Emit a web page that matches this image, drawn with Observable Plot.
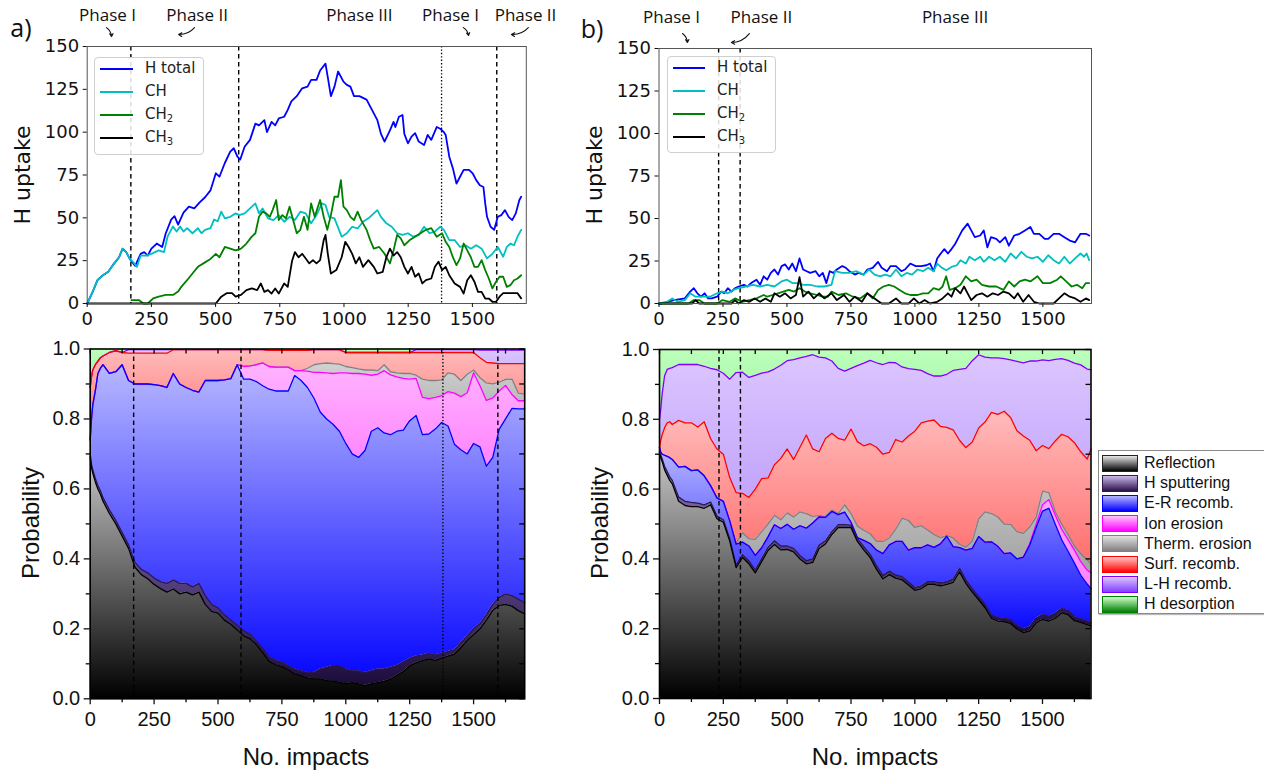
<!DOCTYPE html>
<html><head><meta charset="utf-8">
<script src="https://cdn.jsdelivr.net/npm/d3@7"></script>
<script src="https://cdn.jsdelivr.net/npm/@observablehq/plot@0.6"></script>
<style>
html,body{margin:0;padding:0;background:#fff;overflow:hidden}
#root{position:relative;width:1264px;height:773px;overflow:hidden;background:#fff}
.box{position:absolute}
.lg{position:absolute;background:rgba(255,255,255,0.85);border:1px solid #cfcfcf;border-radius:4px}
.lgi{position:absolute;white-space:nowrap;line-height:1}
.lgi sub{font-size:10px;vertical-align:-3px;line-height:0}
</style></head><body><div id="root"></div>
<script>
// ---------- tick labels / categories ----------
const topXTicks = [0, 250, 500, 750, 1000, 1250, 1500];
const topYTicks = [0, 25, 50, 75, 100, 125, 150];
const botXTicks = [0, 250, 500, 750, 1000, 1250, 1500];
const botXMinor = [125, 375, 625, 875, 1125, 1375, 1625];
const botYTicks = [0, 0.2, 0.4, 0.6, 0.8, 1.0];
const botYMinor = [0.1, 0.3, 0.5, 0.7, 0.9];
const topSeriesNames = ["H total", "CH", "CH<sub>2</sub>", "CH<sub>3</sub>"];
const processNames = ["Reflection", "H sputtering", "E-R recomb.", "Ion erosion", "Therm. erosion", "Surf. recomb.", "L-H recomb.", "H desorption"];

// phase boundaries (No. impacts)
const aDashed = [170, 590, 1595];
const aDotted = [1380];
const bDashed = [233, 317];
const bDotted = [];

// phase annotations (data units of the upper panels)
const aPhaseLabels = [
  {t: "Phase I", x: 79, y: 168}, {t: "Phase II", x: 428, y: 168}, {t: "Phase III", x: 1060, y: 168},
  {t: "Phase I", x: 1415, y: 168}, {t: "Phase II", x: 1707, y: 168}
];
const aPhaseArrows = [
  {x1: 75, y1: 161, x2: 95, y2: 155.8}, {x1: 418, y1: 161, x2: 356, y2: 157},
  {x1: 1465, y1: 161, x2: 1485, y2: 156.4}, {x1: 1718, y1: 161, x2: 1652, y2: 157}
];
const bPhaseLabels = [{t: "Phase I", x: 49, y: 168}, {t: "Phase II", x: 400, y: 168}, {t: "Phase III", x: 1157, y: 168}];
const bPhaseArrows = [{x1: 92, y1: 158.8, x2: 111, y2: 153.5}, {x1: 353, y1: 158.8, x2: 283, y2: 153.5}];

// ---------- panel a) H uptake [impacts, value] ----------
const aTotal = [[0,0],[19,6],[40,13.6],[61,16.5],[82,18.5],[103,23],[124,27],[138,32],[152,30],[166,26],[176,24],[187,22],[208,29],[222,30],[236,28],[250,32],[271,35],[292,33],[306,41],[327,49],[340,51],[354,46],[375,53],[396,56.5],[417,55.5],[438,59],[459,62],[480,66],[501,76],[515,74],[536,82],[557,88.6],[571,90.6],[585,85.7],[596,84],[613,91.5],[634,95.5],[655,105],[669,104],[690,107],[700,100],[718,106],[732,104],[746,108],[767,109],[781,113],[795,118],[816,121],[837,125.6],[858,126.6],[872,130.5],[893,130.5],[907,136],[928,140],[937,132],[949,121],[963,126.6],[977,135.4],[998,129.5],[1011,127.6],[1025,126.6],[1039,121],[1060,121],[1088,119],[1109,113],[1130,107],[1144,99],[1158,94.5],[1179,101],[1193,106],[1200,103],[1214,109],[1228,110],[1235,99],[1249,93.5],[1263,97.4],[1277,99.4],[1291,94.5],[1312,92.5],[1326,98.4],[1340,95.5],[1361,103],[1375,102],[1389,100],[1396,98.4],[1410,85.7],[1424,79],[1438,70],[1452,74],[1466,78],[1487,78],[1501,76],[1515,72],[1529,69],[1543,68],[1550,58.4],[1557,50.6],[1571,44.8],[1585,43],[1599,50.6],[1613,51.6],[1627,54.5],[1641,50.6],[1655,48.7],[1669,52.6],[1683,60.4],[1690,62.3]];
const aCH = [[0,0],[19,6],[40,13.6],[61,16.5],[82,18.5],[103,23],[124,27],[138,32],[152,30],[166,26],[180,24],[194,21.4],[208,28],[229,28],[250,29],[278,31],[299,30],[313,39],[334,45],[348,42],[362,45],[375,42],[389,44],[410,41],[431,44],[445,41],[459,43],[480,44],[494,49],[508,48],[522,53.6],[536,49.7],[557,50.6],[578,52.6],[592,51.6],[613,52.6],[634,55.5],[655,58.4],[669,52.6],[683,55.5],[704,49.7],[725,48.7],[746,51.6],[767,47.7],[788,50.6],[809,48.7],[830,53.6],[851,52.6],[872,46.8],[893,51.6],[914,58.4],[928,57.5],[942,50.6],[963,49.7],[991,39],[1011,41],[1032,44.8],[1053,43.8],[1074,47.7],[1095,49.7],[1116,52.6],[1130,54.5],[1144,50.6],[1165,46.8],[1186,44.8],[1207,41],[1228,40],[1249,41],[1270,39],[1291,40],[1312,44.8],[1333,41],[1354,42],[1375,44.8],[1389,43],[1410,37],[1431,37],[1452,33],[1473,34],[1494,32],[1515,34],[1536,32],[1557,26.3],[1578,29],[1599,33],[1620,27.3],[1634,33],[1648,35],[1662,34],[1676,39],[1690,43]];
const aCH2 = [[172,2],[180,2],[201,2],[219,0],[236,0],[257,3],[278,4],[306,5],[334,5],[354,7],[368,10],[389,13.6],[410,17.5],[431,21.4],[459,24],[480,26],[501,29],[515,27],[536,33],[557,32],[578,31],[599,32],[620,35],[641,39],[655,41],[669,50.6],[683,53.6],[697,52.6],[711,50.6],[722,54.5],[736,60.4],[746,48.7],[760,51.6],[774,49.7],[788,56.5],[802,48.7],[816,41],[830,43],[844,50.6],[858,43],[872,58.4],[886,50.6],[907,60.4],[921,50.6],[935,43],[949,51.6],[963,62.3],[977,62.3],[988,72],[998,56.5],[1011,54.5],[1025,50.6],[1039,48.7],[1053,53.6],[1067,48.7],[1088,43],[1102,37],[1116,32],[1137,33],[1158,29],[1179,23.4],[1193,31],[1207,40],[1221,38],[1235,34],[1256,37],[1277,39],[1298,41],[1319,43],[1340,44],[1361,39],[1382,41],[1396,36],[1410,33],[1424,27],[1438,22.4],[1452,26.3],[1466,35],[1480,31],[1494,27],[1508,21.4],[1522,21.4],[1536,25.3],[1550,19.5],[1564,14.6],[1578,8.8],[1592,12.7],[1606,15.6],[1620,15.6],[1634,9.7],[1648,10.7],[1662,13.6],[1676,14.6],[1690,16.5]];
const aCH3 = [[0,0],[501,0],[522,4],[543,6],[564,6],[578,4],[599,5],[620,7.8],[641,8.8],[662,7.8],[676,11.7],[690,6.8],[704,7.8],[718,5.8],[732,8.8],[746,5.8],[767,11.7],[781,9.7],[798,25],[809,30],[823,27],[837,29],[851,26.3],[865,23.4],[879,25.3],[893,23.4],[907,25.3],[921,37],[928,40],[937,29],[949,17.5],[970,19.5],[991,27],[1005,36],[1018,33],[1032,29],[1046,23.4],[1060,27],[1074,21.4],[1095,25.3],[1116,21.4],[1130,17.5],[1151,18.5],[1165,27],[1179,32],[1193,28],[1207,30],[1221,27],[1235,21.4],[1249,17.5],[1263,21.4],[1277,15.6],[1291,17.5],[1305,11.7],[1319,13.6],[1340,14.6],[1354,21.4],[1368,24.4],[1382,19.5],[1396,21.4],[1410,16.5],[1431,11.7],[1452,9.7],[1466,5.8],[1480,13.6],[1494,16.5],[1508,12.7],[1522,6.8],[1536,6.8],[1550,2.9],[1564,2.9],[1578,1],[1592,1],[1606,4],[1620,6],[1648,6],[1676,6],[1690,3]];

// ---------- panel b) H uptake ----------
const bTotal = [[0,0],[10,0],[59,2],[101,3],[122,7],[136,9],[150,6],[164,4],[178,6],[192,3],[206,3],[227,4],[243,7],[255,6],[269,9],[283,7],[297,9],[311,10],[332,11],[346,10],[360,12],[381,14],[395,11],[409,16],[423,14],[437,18],[451,20],[465,17],[479,22],[493,23],[507,20],[521,23.5],[535,19],[549,26.5],[563,20],[577,19],[591,18],[612,19],[626,16],[640,18],[654,12],[667,19],[681,18],[695,20],[716,22],[730,21],[744,19],[765,17],[779,18],[800,17],[814,20],[835,21],[856,24.5],[870,21],[891,19],[905,22],[926,22],[947,19],[961,20],[982,23.5],[1003,22],[1024,22],[1045,22.5],[1059,23.5],[1073,19],[1087,26.5],[1101,29.4],[1115,32],[1129,29.4],[1143,32],[1157,35],[1171,39],[1185,43],[1206,47],[1220,43],[1234,39],[1255,40],[1269,43],[1283,33],[1297,39],[1318,38],[1332,36],[1353,39],[1367,34],[1388,40],[1409,41],[1430,43],[1451,45],[1465,41],[1486,41],[1507,38],[1521,38],[1542,41],[1563,41],[1584,39],[1605,37],[1626,36],[1647,41],[1668,41],[1681,40]];
const bCH = [[0,0],[31,1],[52,3],[73,1],[101,2],[122,6],[143,4],[171,4],[199,4],[227,6],[248,7],[269,6],[290,8],[311,9],[339,10],[367,11],[395,10],[423,11],[451,10],[479,13],[500,14],[521,12],[542,12],[563,11],[591,11],[618,10],[646,10],[674,11],[688,19],[716,18],[744,18],[772,19],[800,17],[821,20],[842,17],[864,16],[884,17],[905,16],[926,20],[947,16],[968,18],[989,17],[1010,20],[1031,19],[1052,21],[1073,19],[1087,23.5],[1101,21.5],[1122,19.6],[1143,21.5],[1164,22.5],[1178,25.5],[1199,23.5],[1213,27.5],[1234,25.5],[1255,27.5],[1269,24.5],[1290,27.5],[1311,25.5],[1332,27.5],[1353,24.5],[1374,29.4],[1395,26.5],[1416,30.4],[1437,27.5],[1458,26.5],[1479,27.5],[1500,24.5],[1521,28.4],[1542,25.5],[1563,23.5],[1584,27.5],[1605,23.5],[1626,26.5],[1647,29.4],[1661,27.5],[1671,29.4],[1681,25.5]];
const bCH2 = [[0,0],[115,0],[136,2],[157,2],[178,0],[227,0],[248,2],[276,1],[297,3],[325,1],[353,2],[381,3],[409,5],[423,4],[444,5],[465,6],[486,7],[507,8],[528,7],[549,9],[570,7],[591,6],[618,5],[639,4],[660,4],[674,7],[702,5],[730,6],[758,4],[786,3],[814,6],[835,3],[856,8],[877,10],[898,11],[919,10],[940,8],[961,6],[982,5],[1010,5],[1031,6],[1052,6],[1073,9],[1094,8],[1108,10],[1122,16],[1136,8],[1157,9],[1178,11],[1199,16],[1220,13],[1241,14],[1262,11],[1290,10],[1318,10],[1346,8],[1367,13],[1388,10],[1409,13],[1430,14],[1451,13],[1479,16],[1500,12],[1528,12],[1556,14],[1570,16],[1591,13],[1612,10],[1633,11],[1654,9],[1668,12],[1681,12]];
const bCH3 = [[0,0],[129,0],[143,2],[157,0],[283,0],[297,2],[311,0],[332,2],[353,1],[374,3],[395,1],[416,3],[437,1],[451,6],[472,4],[493,6],[514,3],[535,5],[549,15.5],[563,4],[584,7],[605,3],[626,6],[646,3],[674,6],[695,2],[723,5],[744,1],[765,4],[793,1],[814,6],[842,3],[870,0],[898,0],[926,3],[947,0],[975,0],[996,3],[1017,0],[1038,2],[1059,0],[1087,1],[1108,3],[1129,6],[1143,4],[1157,9],[1178,6],[1192,10],[1206,6],[1220,2],[1241,5],[1262,6],[1283,4],[1304,6],[1325,5],[1346,7],[1367,6],[1388,3],[1402,6],[1423,1],[1444,5],[1465,1],[1486,0],[1542,0],[1563,3],[1584,6],[1605,4],[1626,3],[1647,1],[1668,3],[1681,2]];

// ---------- panel a) probabilities: cumulative upper edge of each process ----------
const aX = [0,5,10,20,30,40,50,75,100,125,150,175,200,225,250,275,300,325,350,375,400,425,450,475,500,525,550,575,600,625,650,675,700,725,750,775,800,825,850,875,900,925,950,975,1000,1025,1050,1075,1100,1125,1150,1175,1200,1225,1250,1275,1300,1325,1350,1375,1400,1425,1450,1475,1500,1525,1550,1575,1600,1625,1650,1675,1700];
const aRefl = [0.69,0.66,0.645,0.62,0.60,0.585,0.565,0.53,0.50,0.465,0.43,0.376,0.355,0.343,0.327,0.315,0.305,0.314,0.30,0.305,0.297,0.305,0.27,0.25,0.245,0.225,0.213,0.197,0.18,0.172,0.155,0.132,0.107,0.098,0.092,0.083,0.071,0.066,0.06,0.057,0.057,0.052,0.051,0.047,0.043,0.046,0.043,0.038,0.043,0.046,0.05,0.056,0.067,0.078,0.094,0.103,0.109,0.114,0.11,0.116,0.122,0.128,0.146,0.167,0.184,0.2,0.225,0.253,0.267,0.27,0.265,0.252,0.243];
const aSput = [0.70,0.67,0.655,0.63,0.61,0.595,0.575,0.54,0.51,0.475,0.44,0.39,0.37,0.36,0.345,0.335,0.33,0.34,0.33,0.33,0.32,0.33,0.295,0.27,0.26,0.24,0.225,0.21,0.195,0.185,0.165,0.145,0.12,0.11,0.105,0.095,0.085,0.08,0.075,0.075,0.085,0.09,0.095,0.095,0.085,0.08,0.08,0.075,0.08,0.085,0.085,0.09,0.095,0.105,0.115,0.122,0.125,0.13,0.125,0.13,0.135,0.14,0.16,0.18,0.2,0.215,0.24,0.27,0.29,0.3,0.295,0.285,0.275];
const aER = [0.74,0.80,0.84,0.88,0.93,0.945,0.955,0.93,0.935,0.955,0.91,0.90,0.90,0.90,0.898,0.895,0.89,0.93,0.90,0.89,0.882,0.877,0.91,0.91,0.91,0.912,0.915,0.955,0.914,0.914,0.907,0.895,0.885,0.88,0.88,0.88,0.924,0.91,0.89,0.86,0.82,0.80,0.785,0.765,0.73,0.70,0.69,0.71,0.765,0.775,0.76,0.755,0.765,0.768,0.795,0.81,0.755,0.757,0.771,0.79,0.78,0.728,0.712,0.70,0.73,0.72,0.665,0.69,0.77,0.80,0.83,0.829,0.829];
const aIon = [0.74,0.80,0.84,0.88,0.93,0.945,0.955,0.93,0.935,0.955,0.91,0.90,0.90,0.90,0.898,0.895,0.89,0.93,0.90,0.89,0.882,0.877,0.91,0.91,0.91,0.912,0.915,0.955,0.95,0.952,0.955,0.96,0.95,0.948,0.948,0.948,0.938,0.938,0.937,0.933,0.933,0.932,0.93,0.932,0.932,0.93,0.93,0.928,0.925,0.928,0.938,0.926,0.92,0.916,0.914,0.916,0.862,0.858,0.862,0.867,0.878,0.874,0.864,0.875,0.932,0.895,0.853,0.86,0.88,0.896,0.87,0.852,0.852];
const aTherm = [0.74,0.80,0.84,0.88,0.93,0.945,0.955,0.93,0.935,0.955,0.91,0.90,0.90,0.90,0.898,0.895,0.89,0.93,0.90,0.89,0.882,0.877,0.91,0.91,0.91,0.912,0.915,0.955,0.95,0.952,0.955,0.96,0.95,0.948,0.948,0.948,0.938,0.938,0.945,0.955,0.958,0.96,0.958,0.957,0.95,0.947,0.943,0.94,0.94,0.938,0.955,0.935,0.932,0.93,0.93,0.925,0.914,0.91,0.91,0.912,0.932,0.928,0.91,0.928,0.94,0.918,0.903,0.9,0.905,0.913,0.914,0.874,0.871];
const aSurf = [0.89,0.92,0.94,0.955,0.965,0.975,0.98,0.99,0.995,0.99,0.988,0.988,0.988,0.988,0.988,0.988,0.988,0.998,0.998,0.998,0.998,0.998,0.998,0.998,0.998,0.998,0.998,0.998,0.998,0.998,0.998,0.998,0.996,0.996,0.996,0.996,0.996,0.996,0.996,0.998,0.998,0.998,0.998,0.998,0.99,0.99,0.99,0.99,0.99,0.99,0.99,0.99,0.99,0.99,0.99,0.99,0.99,0.99,0.99,0.99,0.99,0.99,0.99,0.99,0.99,0.975,0.962,0.96,0.958,0.958,0.958,0.958,0.958];
const aLH = [0.89,0.92,0.94,0.955,0.965,0.975,0.98,0.99,0.995,0.99,0.998,0.998,0.998,0.998,0.998,0.998,0.998,0.998,0.998,0.998,0.998,0.998,0.998,0.998,0.998,0.998,0.998,0.998,0.998,0.998,0.998,0.998,0.996,0.996,0.996,0.996,0.996,0.996,0.996,0.998,0.998,0.998,0.998,0.998,0.99,0.99,0.99,0.99,0.99,0.99,0.99,0.99,0.99,0.99,0.99,0.998,0.998,0.998,0.998,0.998,0.998,0.998,0.998,0.998,0.998,0.997,0.997,0.997,0.997,0.997,0.997,0.997,0.997];

// ---------- panel b) probabilities ----------
const bX = [0,5,10,20,30,40,50,75,100,125,150,175,200,225,250,275,300,325,350,375,400,425,450,475,500,525,550,575,600,625,650,675,700,725,750,775,800,825,850,875,900,925,950,975,1000,1025,1050,1075,1100,1125,1150,1175,1200,1225,1250,1275,1300,1325,1350,1375,1400,1425,1450,1475,1500,1525,1550,1575,1600,1625,1650,1675,1690];
const bRefl = [0.70,0.69,0.68,0.655,0.64,0.625,0.615,0.565,0.553,0.55,0.55,0.545,0.555,0.515,0.505,0.451,0.375,0.404,0.386,0.36,0.392,0.424,0.441,0.426,0.427,0.42,0.40,0.386,0.39,0.43,0.443,0.47,0.49,0.49,0.49,0.45,0.426,0.404,0.37,0.343,0.355,0.345,0.34,0.325,0.31,0.315,0.327,0.327,0.323,0.327,0.333,0.363,0.33,0.305,0.283,0.26,0.23,0.222,0.22,0.215,0.199,0.189,0.194,0.217,0.227,0.222,0.23,0.245,0.24,0.223,0.218,0.212,0.208];
const bSput = [0.705,0.697,0.688,0.665,0.65,0.635,0.625,0.577,0.565,0.562,0.56,0.555,0.563,0.523,0.512,0.458,0.382,0.412,0.394,0.368,0.40,0.433,0.452,0.437,0.437,0.43,0.41,0.395,0.40,0.44,0.452,0.478,0.498,0.498,0.497,0.458,0.435,0.413,0.38,0.353,0.365,0.354,0.349,0.334,0.318,0.323,0.335,0.335,0.331,0.335,0.342,0.373,0.34,0.314,0.292,0.27,0.24,0.232,0.23,0.226,0.21,0.20,0.206,0.23,0.24,0.236,0.244,0.258,0.252,0.234,0.228,0.222,0.217];
const bER = [0.72,0.705,0.70,0.697,0.694,0.69,0.685,0.663,0.665,0.653,0.655,0.638,0.61,0.575,0.565,0.509,0.442,0.448,0.437,0.41,0.432,0.463,0.498,0.487,0.499,0.485,0.495,0.488,0.503,0.52,0.519,0.536,0.527,0.534,0.505,0.461,0.453,0.444,0.425,0.415,0.44,0.45,0.45,0.425,0.432,0.432,0.44,0.433,0.443,0.465,0.435,0.432,0.425,0.43,0.464,0.448,0.449,0.436,0.415,0.417,0.40,0.405,0.44,0.49,0.537,0.545,0.499,0.455,0.422,0.388,0.353,0.328,0.315];
const bIon = [0.72,0.705,0.70,0.697,0.694,0.69,0.685,0.663,0.665,0.653,0.655,0.638,0.61,0.575,0.565,0.509,0.442,0.448,0.437,0.41,0.432,0.463,0.498,0.487,0.499,0.485,0.495,0.488,0.503,0.52,0.519,0.536,0.527,0.534,0.505,0.461,0.453,0.444,0.425,0.415,0.44,0.45,0.45,0.425,0.432,0.432,0.44,0.433,0.443,0.465,0.435,0.432,0.425,0.43,0.464,0.448,0.449,0.436,0.415,0.417,0.40,0.405,0.445,0.50,0.555,0.57,0.525,0.485,0.455,0.425,0.392,0.368,0.36];
const bTherm = [0.72,0.705,0.70,0.697,0.694,0.69,0.685,0.663,0.665,0.653,0.655,0.638,0.61,0.575,0.565,0.509,0.445,0.475,0.458,0.456,0.478,0.50,0.525,0.512,0.532,0.52,0.535,0.53,0.522,0.524,0.522,0.54,0.53,0.555,0.53,0.494,0.482,0.472,0.45,0.45,0.46,0.485,0.517,0.51,0.49,0.495,0.483,0.47,0.461,0.467,0.46,0.442,0.434,0.451,0.515,0.535,0.53,0.52,0.50,0.499,0.478,0.473,0.492,0.52,0.594,0.59,0.535,0.50,0.47,0.437,0.415,0.397,0.385];
const bSurf = [0.72,0.74,0.755,0.776,0.79,0.793,0.785,0.797,0.79,0.79,0.778,0.793,0.745,0.715,0.70,0.633,0.59,0.588,0.576,0.60,0.63,0.632,0.67,0.688,0.715,0.685,0.72,0.755,0.715,0.707,0.745,0.76,0.745,0.74,0.772,0.736,0.724,0.73,0.72,0.70,0.705,0.742,0.735,0.752,0.766,0.79,0.795,0.798,0.78,0.777,0.77,0.74,0.719,0.735,0.775,0.792,0.82,0.814,0.823,0.805,0.767,0.752,0.74,0.71,0.725,0.716,0.738,0.757,0.75,0.733,0.707,0.686,0.715];
const bLH = [0.80,0.83,0.87,0.925,0.943,0.946,0.948,0.957,0.957,0.957,0.957,0.952,0.946,0.942,0.932,0.915,0.934,0.935,0.92,0.926,0.932,0.936,0.944,0.955,0.968,0.971,0.976,0.98,0.985,0.978,0.976,0.967,0.946,0.938,0.946,0.954,0.961,0.969,0.962,0.957,0.963,0.962,0.95,0.945,0.943,0.94,0.931,0.924,0.924,0.929,0.94,0.943,0.946,0.968,0.985,0.978,0.976,0.976,0.974,0.97,0.966,0.962,0.967,0.967,0.97,0.968,0.972,0.974,0.969,0.961,0.956,0.944,0.942];

// ---------- styles ----------
const topColors = ["#0000ff", "#00bfbf", "#008000", "#000000"];
const procFill = [["#c6c6c6","#000000"],["#9a80c8","#1c0c3c"],["#b8b8ff","#0a0aff"],["#ffb4ff","#ff84ff"],["#d2d2d2","#a2a2a2"],["#ffbcbc","#ff6e6e"],["#dcc6ff","#c2a4fb"],["#bcffbc","#a0f2a0"]];
const procLine = ["#000000","#2a1650","#0000ff","#ff00ff","#808080","#ff0000","#8000ff","#00a000"];
const swatch = [["#e6e6e6","#000000","#222"],["#cbb8ea","#2a1048","#301850"],["#b4b4ff","#0000ff","#0000ff"],["#ffc4ff","#ff00ff","#ff00ff"],["#e2e2e2","#808080","#808080"],["#ffc4c4","#ff0000","#ff0000"],["#dcc4ff","#8040ff","#8000ff"],["#ccffcc","#008000","#008000"]];

const root = document.getElementById("root");
function place(node, left, top) {
  const d = document.createElement("div");
  d.className = "box";
  d.style.left = left + "px"; d.style.top = top + "px";
  d.appendChild(node); root.appendChild(d);
  return d;
}
function text(html, cx, cy, font, size, rot = 0) {
  const d = document.createElement("div");
  d.style.cssText = `position:absolute;left:${cx}px;top:${cy}px;transform:translate(-50%,-50%) rotate(${rot}deg);font-family:${font};font-size:${size}px;white-space:nowrap;line-height:1;color:#111`;
  d.innerHTML = html; root.appendChild(d);
}
function fixSvg(svg, font, size) {
  svg.style.background = "transparent";
  svg.style.overflow = "visible";
  svg.style.maxWidth = "none";
  svg.style.fontFamily = font;
  svg.style.fontSize = size + "px";
  svg.style.color = "#111";
  return svg;
}

function topPanel(c) {
  const svg = Plot.plot({
    width: c.width, height: c.height,
    marginLeft: c.mL, marginRight: c.mR, marginTop: c.mT, marginBottom: c.mB,
    x: {domain: [0, c.xMax]}, y: {domain: [0, 150]},
    marks: [
      Plot.ruleX(c.dashed, {x: d => d, stroke: "#000", strokeWidth: 1.4, strokeDasharray: "4.5,3.5"}),
      Plot.ruleX(c.dotted, {x: d => d, stroke: "#000", strokeWidth: 1.3, strokeDasharray: "1.4,2"}),
      ...c.series.map((s, i) => Plot.line(s, {x: d => d[0], y: d => d[1], stroke: topColors[i], strokeWidth: 1.8})),
      Plot.frame({stroke: "#555", strokeWidth: 1}),
      Plot.axisX({ticks: topXTicks, tickSize: 4, tickPadding: 5, tickFormat: d3.format("d"), label: null}),
      Plot.axisY({ticks: topYTicks, tickSize: 4, tickPadding: 4, tickFormat: d3.format("d"), label: null}),
      Plot.text(c.labels, {x: "x", y: "y", text: "t", fontFamily: "'Open Sans', sans-serif", fontSize: 17, fill: "#111"}),
      Plot.arrow(c.arrows, {x1: "x1", y1: "y1", x2: "x2", y2: "y2", bend: 25, headLength: 5, strokeWidth: 1.1, stroke: "#111"})
    ]
  });
  place(fixSvg(svg, "'DejaVu Sans', sans-serif", 18), c.left, c.top);
}

function bottomPanel(c) {
  const rows = c.X.map((x, i) => ({x, v: [0, ...c.layers.map(a => a[i]), 1]}));
  const pw = c.width - c.mL - c.mR, ph = c.height - c.mT - c.mB;
  const defs = () => {
    const d = d3.create("svg:defs");
    procFill.forEach((g, k) => {
      const lg = d.append("linearGradient").attr("id", c.prefix + k).attr("x1", 0).attr("y1", 0).attr("x2", 0).attr("y2", 1);
      lg.append("stop").attr("offset", 0).attr("stop-color", g[0]);
      lg.append("stop").attr("offset", 1).attr("stop-color", g[1]);
    });
    return d.node();
  };
  const svg = Plot.plot({
    width: c.width, height: c.height,
    marginLeft: c.mL, marginRight: c.mR, marginTop: c.mT, marginBottom: c.mB,
    x: {domain: [0, c.xMax]}, y: {domain: [0, 1]},
    marks: [
      defs,
      ...procFill.map((g, k) => Plot.areaY(rows, {x: "x", y1: d => d.v[k], y2: d => d.v[k + 1], fill: `url(#${c.prefix}${k})`})),
      ...[7, 6, 5, 4, 3, 2, 1].map(k => Plot.line(rows, {x: "x", y: d => d.v[k], stroke: procLine[k - 1], strokeWidth: 1.3})),
      Plot.ruleX(c.dashed, {x: d => d, stroke: "#000", strokeWidth: 1.4, strokeDasharray: "4.5,3.5"}),
      Plot.ruleX(c.dotted, {x: d => d, stroke: "#000", strokeWidth: 1.3, strokeDasharray: "1.4,2"}),
      Plot.frame({stroke: "#000", strokeWidth: 1.6}),
      Plot.axisX({ticks: botXTicks, tickSize: 6, tickPadding: 7, tickFormat: d3.format("d"), label: null, strokeWidth: 1.3}),
      Plot.axisY({ticks: botYTicks, tickSize: 6, tickPadding: 4, tickFormat: d3.format(".1f"), label: null, strokeWidth: 1.3}),
      Plot.ruleX(botXMinor, {x: d => d, insetTop: ph, insetBottom: -4, stroke: "#000", strokeWidth: 1.3}),
      Plot.ruleY(botYMinor, {y: d => d, insetRight: pw, insetLeft: -4, stroke: "#000", strokeWidth: 1.3}),
      Plot.ruleX([...botXTicks, ...botXMinor], {x: d => d, insetBottom: ph - 5, stroke: "#000", strokeWidth: 1.3}),
      Plot.ruleY([...botYTicks, ...botYMinor], {y: d => d, insetLeft: pw - 5, stroke: "#000", strokeWidth: 1.3})
    ]
  });
  place(fixSvg(svg, "'Liberation Sans', Arial, sans-serif", 20), c.left, c.top);
}

topPanel({left: 0, top: 0, width: 570, height: 335, mL: 86.7, mR: 44.2, mT: 46, mB: 32, xMax: 1710,
  series: [aTotal, aCH, aCH2, aCH3], dashed: aDashed, dotted: aDotted, labels: aPhaseLabels, arrows: aPhaseArrows});
topPanel({left: 580, top: 0, width: 520, height: 335, mL: 78.5, mR: 9, mT: 48, mB: 32, xMax: 1690,
  series: [bTotal, bCH, bCH2, bCH3], dashed: bDashed, dotted: bDotted, labels: bPhaseLabels, arrows: bPhaseArrows});
bottomPanel({left: 0, top: 330, width: 540, height: 440, mL: 89.7, mR: 15.8, mT: 18.5, mB: 71.7, xMax: 1700,
  X: aX, layers: [aRefl, aSput, aER, aIon, aTherm, aSurf, aLH], dashed: aDashed, dotted: aDotted, prefix: "ga"});
bottomPanel({left: 580, top: 330, width: 520, height: 440, mL: 79, mR: 9.5, mT: 19, mB: 72, xMax: 1690,
  X: bX, layers: [bRefl, bSput, bER, bIon, bTherm, bSurf, bLH], dashed: bDashed, dotted: bDotted, prefix: "gb"});

// axis titles and panel letters
text("H uptake", 23, 175, "'DejaVu Sans', sans-serif", 22, -90);
text("H uptake", 595, 175, "'DejaVu Sans', sans-serif", 22, -90);
text("Probability", 31, 523, "'Liberation Sans', Arial, sans-serif", 24, -90);
text("Probability", 600, 523, "'Liberation Sans', Arial, sans-serif", 24, -90);
text("No. impacts", 306, 757, "'Liberation Sans', Arial, sans-serif", 24);
text("No. impacts", 875, 757, "'Liberation Sans', Arial, sans-serif", 24);
text("a)", 21, 27, "'Open Sans', sans-serif", 25);
text("b)", 592, 28, "'Open Sans', sans-serif", 25);

// upper legends (matplotlib style)
function topLegend(left, top, w, h, lineX, lineW, textX, ys) {
  const box = document.createElement("div");
  box.className = "lg";
  box.style.cssText += `left:${left}px;top:${top}px;width:${w}px;height:${h}px`;
  root.appendChild(box);
  topSeriesNames.forEach((name, i) => {
    const ln = document.createElement("div");
    ln.style.cssText = `position:absolute;left:${lineX}px;top:${ys[i] - 1}px;width:${lineW}px;height:2px;background:${topColors[i]}`;
    root.appendChild(ln);
    const t = document.createElement("div");
    t.className = "lgi";
    t.style.cssText += `left:${textX}px;top:${ys[i] - 8}px;font-family:'DejaVu Sans',sans-serif;font-size:15px;color:#222`;
    t.innerHTML = name; root.appendChild(t);
  });
}
topLegend(94, 57, 108, 96, 100, 33, 145, [69, 92, 115, 138]);
topLegend(667, 56, 107, 95, 673, 32, 717, [68, 91, 114, 137]);

// process legend (right)
const pl = document.createElement("div");
pl.style.cssText = "position:absolute;left:1098px;top:450px;width:180px;height:162px;border:1px solid #8a8a8a;background:#fff;box-shadow:1px 1px 1px #bbb";
root.appendChild(pl);
processNames.forEach((name, i) => {
  const cy = 463 + i * 20.2;
  const s = document.createElement("div");
  s.style.cssText = `position:absolute;left:1102px;top:${cy - 8.5}px;width:34px;height:15px;border:1px solid ${swatch[i][2]};background:linear-gradient(${swatch[i][0]}, ${swatch[i][1]})`;
  root.appendChild(s);
  const t = document.createElement("div");
  t.className = "lgi";
  t.style.cssText += `left:1144px;top:${cy - 8}px;font-family:'Liberation Sans',Arial,sans-serif;font-size:16px;color:#111`;
  t.textContent = name; root.appendChild(t);
});
</script></body></html>
